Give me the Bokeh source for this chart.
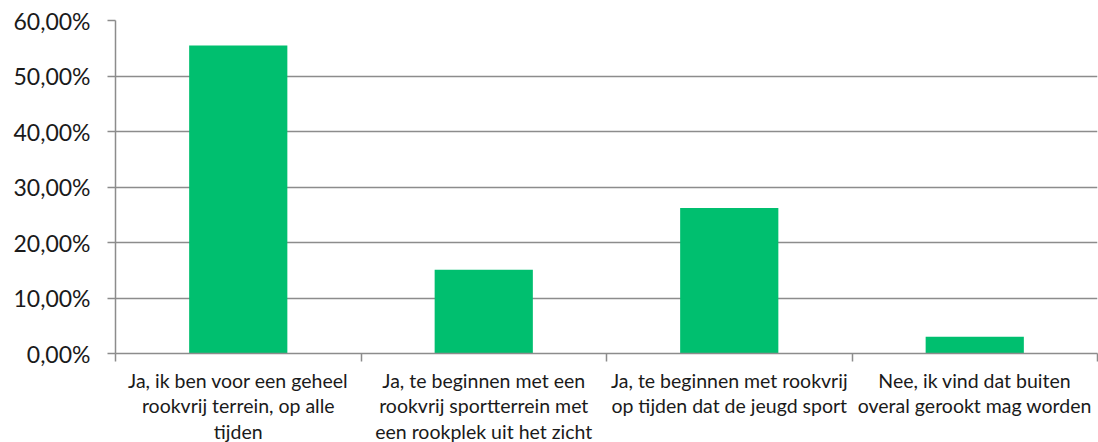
from bokeh.plotting import figure
from bokeh.models import FixedTicker, Range1d
from bokeh.embed import file_html
from bokeh.resources import INLINE

categories = [
    "Ja, ik ben voor een geheel\nrookvrij terrein, op alle\ntijden",
    "Ja, te beginnen met een\nrookvrij sportterrein met\neen rookplek uit het zicht",
    "Ja, te beginnen met rookvrij\nop tijden dat de jeugd sport",
    "Nee, ik vind dat buiten\noveral gerookt mag worden",
]
values = [55.5, 15.1, 26.2, 3.0]
y_ticks = [0, 10, 20, 30, 40, 50, 60]
y_tick_labels = ["0,00%", "10,00%", "20,00%", "30,00%", "40,00%", "50,00%", "60,00%"]

FONT = "Lato"
GREY = "#8c8c8c"
TEXT = "#1a1a1a"
BAR = "#00BF6F"

n = len(categories)
positions = [i + 0.5 for i in range(n)]
boundaries = [float(i) for i in range(n + 1)]

p = figure(
    frame_width=982, frame_height=333,
    x_range=Range1d(0, n), y_range=Range1d(0, 60),
    output_backend="svg", toolbar_location=None,
    min_border_left=115, min_border_top=20, min_border_right=1, min_border_bottom=10,
)
p.outline_line_color = None
p.background_fill_color = "white"
p.border_fill_color = "white"

p.vbar(x=positions, top=values, width=0.4, fill_color=BAR, line_color=None)

# y axis
yax = p.yaxis[0]
yax.ticker = FixedTicker(ticks=y_ticks, minor_ticks=[])
yax.major_label_overrides = {t: l for t, l in zip(y_ticks, y_tick_labels)}
yax.axis_line_color = GREY
yax.axis_line_width = 1.5
yax.major_tick_line_color = GREY
yax.major_tick_line_width = 1.5
yax.major_tick_out = 8
yax.major_tick_in = 0
yax.minor_tick_line_color = None
yax.major_label_standoff = 17
yax.major_label_text_font = FONT
yax.major_label_text_font_size = "23px"
yax.major_label_text_color = TEXT

# x axis
xax = p.xaxis[0]
xax.ticker = FixedTicker(ticks=positions, minor_ticks=boundaries)
xax.major_label_overrides = {t: c for t, c in zip(positions, categories)}
xax.axis_line_color = GREY
xax.axis_line_width = 1.5
xax.major_tick_line_color = None
xax.major_tick_out = 0
xax.major_tick_in = 0
xax.minor_tick_line_color = GREY
xax.minor_tick_line_width = 1.5
xax.minor_tick_out = 8
xax.minor_tick_in = 0
xax.major_label_standoff = 7
xax.major_label_text_font = FONT
xax.major_label_text_font_size = "19.5px"
xax.major_label_text_color = TEXT
xax.major_label_text_line_height = 1.12

p.xgrid.grid_line_color = None
p.ygrid.ticker = FixedTicker(ticks=y_ticks)
p.ygrid.grid_line_color = GREY
p.ygrid.grid_line_width = 1.5

open("out.html", "w").write(file_html(p, INLINE))
